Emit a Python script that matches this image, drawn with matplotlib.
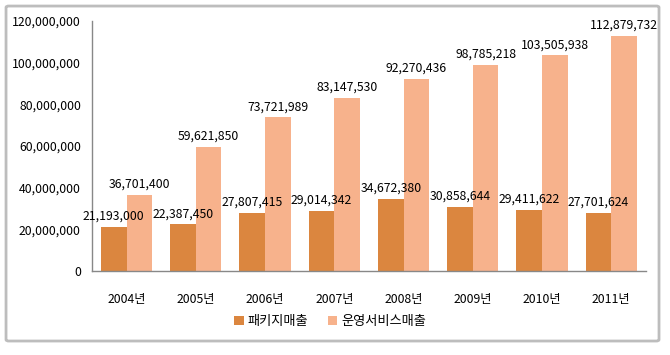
import matplotlib
matplotlib.use("Agg")
import matplotlib.pyplot as plt
import numpy as np
from matplotlib.patches import FancyBboxPatch

plt.rcParams['font.family'] = ['Noto Sans CJK KR', 'DejaVu Sans']

years = ["2004년", "2005년", "2006년", "2007년", "2008년", "2009년", "2010년", "2011년"]
package_sales = [21193000, 22387450, 27807415, 29014342, 34672380, 30858644, 29411622, 27701624]
service_sales = [36701400, 59621850, 73721989, 83147530, 92270436, 98785218, 103505938, 112879732]
series_names = ["패키지매출", "운영서비스매출"]
yticks = [0, 20000000, 40000000, 60000000, 80000000, 100000000, 120000000]

dark = "#DB863F"
light = "#F7B28C"

fig = plt.figure(figsize=(6.7, 3.55), dpi=100)
ax = fig.add_axes([0.1373, 0.2366, 0.8267, 0.7042])

x = np.arange(len(years))
w = 0.37
b1 = ax.bar(x - w / 2, package_sales, w, color=dark, label=series_names[0], zorder=2)
b2 = ax.bar(x + w / 2, service_sales, w, color=light, label=series_names[1], zorder=2)

fs = 8.8
for rect, v in zip(b1, package_sales):
    ax.annotate(f"{v:,}", (rect.get_x() + rect.get_width() / 2, v),
                xytext=(0, 3), textcoords="offset points", ha="center", va="bottom",
                fontsize=fs, color="#000000", zorder=4)
for rect, v in zip(b2, service_sales):
    ax.annotate(f"{v:,}", (rect.get_x() + rect.get_width() / 2, v),
                xytext=(0, 3), textcoords="offset points", ha="center", va="bottom",
                fontsize=fs, color="#000000", zorder=4)

ax.set_xlim(-0.5, len(years) - 0.5)
ax.set_ylim(0, 120000000)
ax.set_yticks(yticks)
ax.set_yticklabels([f"{t:,}" for t in yticks], fontsize=fs)
ax.set_xticks(x)
ax.set_xticklabels(years, fontsize=fs)
ax.tick_params(axis='both', length=0)
ax.tick_params(axis='y', pad=8)
ax.tick_params(axis='x', pad=16)
for s in ["top", "right"]:
    ax.spines[s].set_visible(False)
for s in ["left", "bottom"]:
    ax.spines[s].set_color("#888888")
    ax.spines[s].set_linewidth(1.0)

leg = fig.legend(handles=[b1, b2], labels=series_names, loc="center",
                 bbox_to_anchor=(0.493, 0.093), ncol=2, frameon=False,
                 fontsize=9.5, handlelength=0.7, handleheight=0.7,
                 handletextpad=0.3, columnspacing=1.5)

border = FancyBboxPatch((0.009, 0.0394), 0.9746, 0.9436, boxstyle="round,pad=0,rounding_size=0.004",
                        transform=fig.transFigure, fill=False, edgecolor="#BDBDBD", linewidth=2)
fig.patches.append(border)

fig.savefig("out.png", dpi=100)
